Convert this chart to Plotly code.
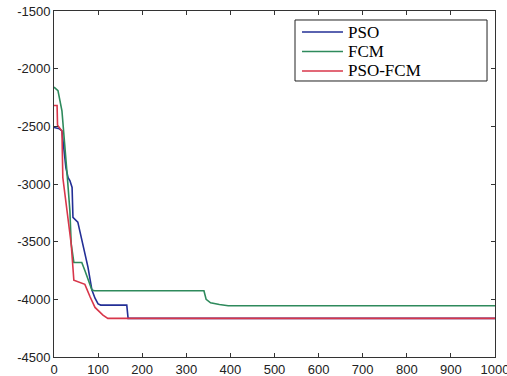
import plotly.graph_objects as go

# Iteration / objective value pairs
pso_x = [0, 12, 18, 27, 32, 36, 41, 43, 54, 62, 70, 77, 86, 93, 100, 106, 165, 168, 1000]
pso_y = [-2510, -2520, -2540, -2860, -2945, -2970, -3030, -3290, -3330, -3470, -3610, -3720, -3920, -3990, -4040, -4050, -4050, -4165, -4165]

fcm_x = [0, 9, 18, 25, 29, 36, 39, 45, 63, 70, 78, 86, 92, 340, 345, 355, 375, 395, 1000]
fcm_y = [-2160, -2190, -2365, -2660, -2880, -3230, -3520, -3680, -3680, -3750, -3840, -3920, -3925, -3925, -4000, -4030, -4045, -4055, -4055]

psofcm_x = [0, 7, 8, 18, 20, 29, 39, 45, 70, 82, 93, 111, 122, 1000]
psofcm_y = [-2320, -2320, -2490, -2540, -2944, -3230, -3520, -3835, -3870, -3980, -4070, -4137, -4165, -4165]

names = ["PSO", "FCM", "PSO-FCM"]
colors = ["#232f96", "#2e8a5c", "#d8364a"]

x_ticks = list(range(0, 1001, 100))
y_ticks = list(range(-4500, -1499, 500))

fig = go.Figure()
for xs, ys, n, c in zip([pso_x, fcm_x, psofcm_x], [pso_y, fcm_y, psofcm_y], names, colors):
    fig.add_trace(go.Scatter(x=xs, y=ys, mode="lines", name=n,
                             line=dict(color=c, width=1.6), showlegend=False))

axis_common = dict(showgrid=False, zeroline=False, showline=True, linecolor="#333333",
                   linewidth=1, mirror="ticks", ticks="inside", ticklen=4,
                   tickcolor="#333333", automargin=False, ticklabeloverflow="allow",
                   tickfont=dict(family="Liberation Sans, Arial", size=13, color="#222222"))

fig.update_xaxes(range=[0, 1000], tickvals=x_ticks, ticktext=[str(v) for v in x_ticks], **axis_common)
fig.update_yaxes(range=[-4500, -1500], tickvals=y_ticks, ticktext=[str(v) for v in y_ticks], **axis_common)

# Legend box (paper coordinates), drawn as in the reference
fig.add_shape(type="rect", xref="paper", yref="paper", x0=0.5465, x1=0.9819, y0=0.7977, y1=0.9740,
              line=dict(color="#222222", width=1), fillcolor="white", layer="above")
leg_y = [0.9393, 0.8829, 0.8266]
for n, c, yy in zip(names, colors, leg_y):
    fig.add_shape(type="line", xref="paper", yref="paper", x0=0.5624, x1=0.6553, y0=yy, y1=yy,
                  line=dict(color=c, width=1.6), layer="above")
    fig.add_annotation(xref="paper", yref="paper", x=0.6644, y=yy, text=n, showarrow=False,
                       xanchor="left", yanchor="middle", borderpad=0,
                       font=dict(family="Liberation Serif, Times New Roman", size=17, color="black"))

fig.update_layout(
    width=507, height=376,
    margin=dict(l=54, r=12, t=11, b=19),
    paper_bgcolor="white", plot_bgcolor="white",
    showlegend=False,
)

fig.write_html("out.html", post_script="document.body.style.margin='0';",
               config={"displayModeBar": False})
